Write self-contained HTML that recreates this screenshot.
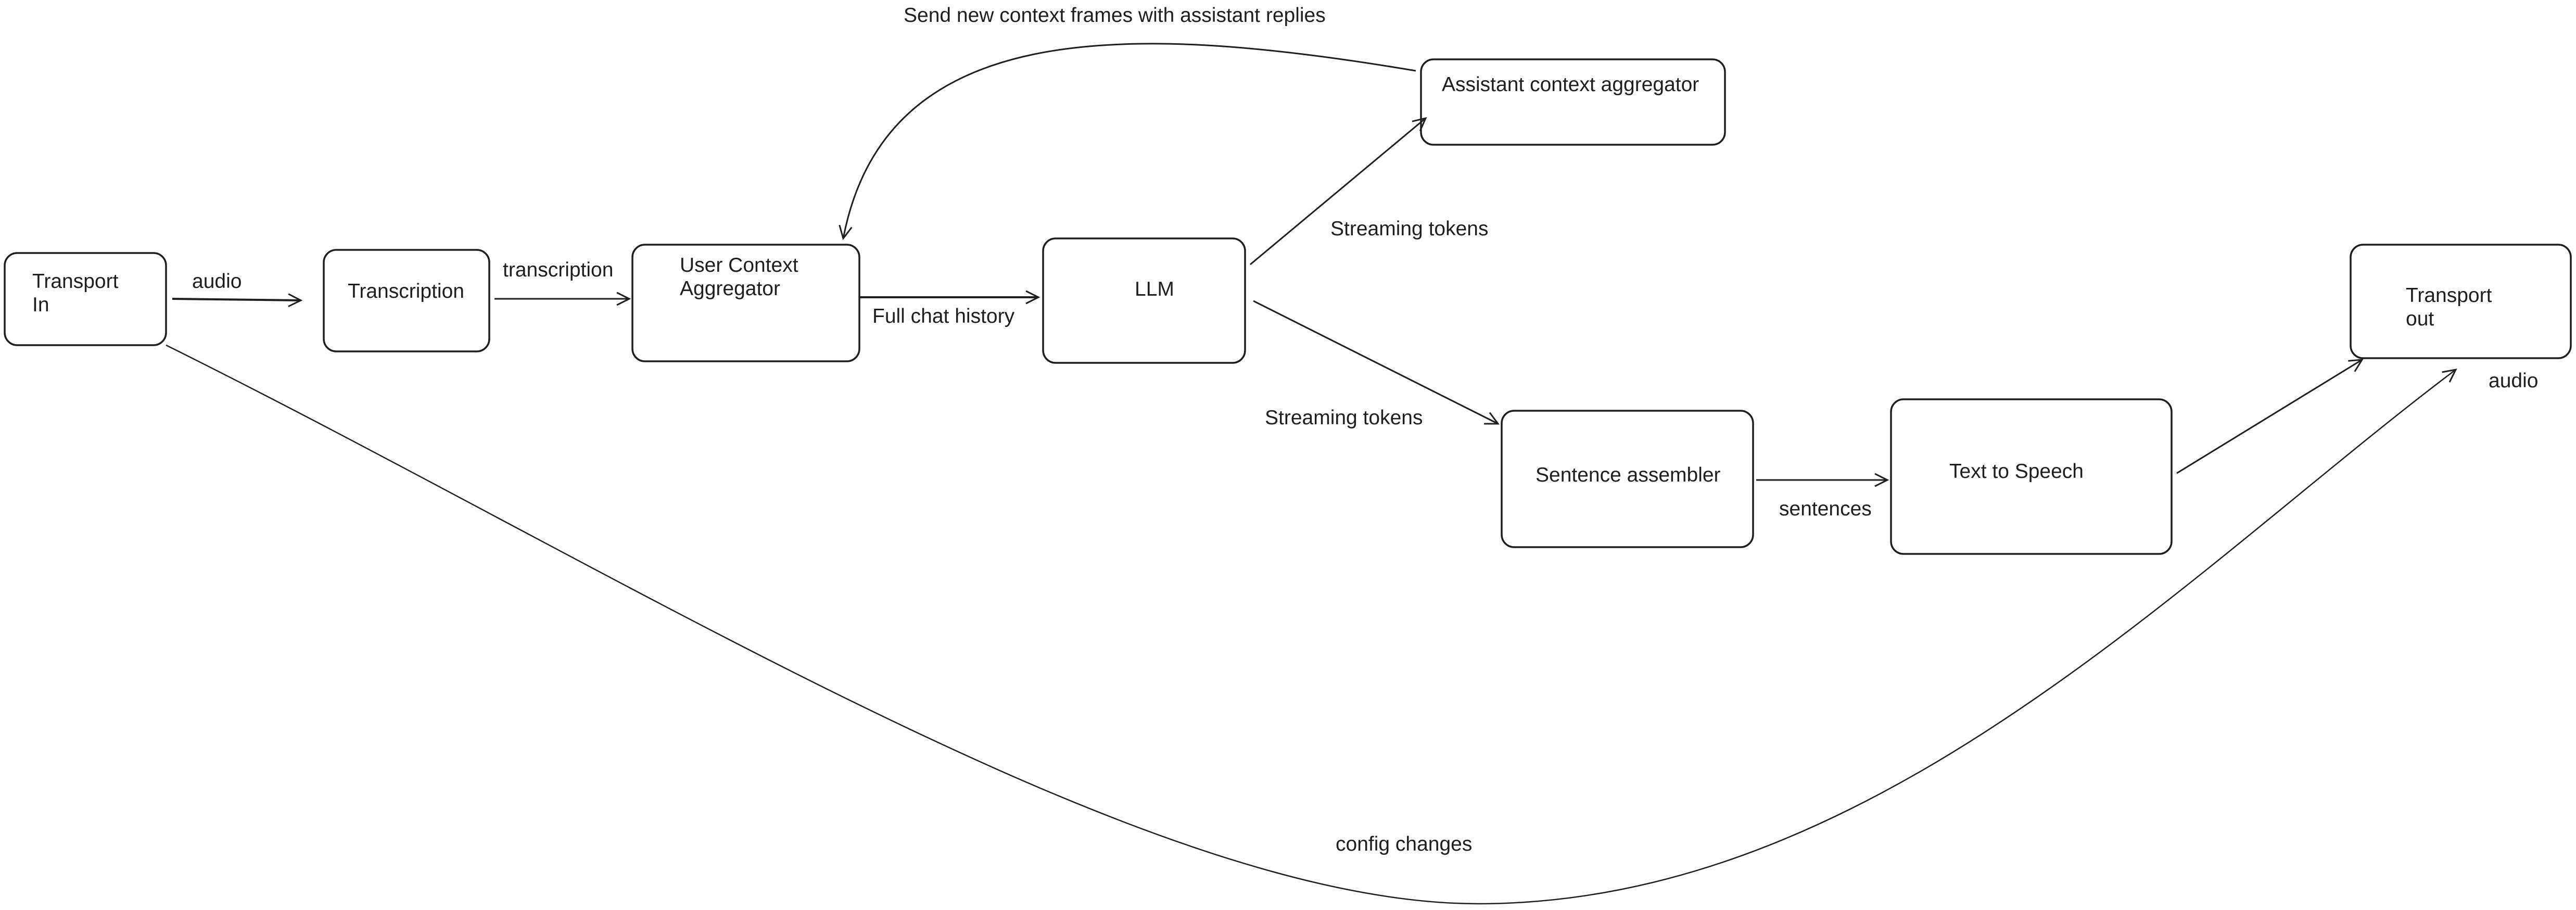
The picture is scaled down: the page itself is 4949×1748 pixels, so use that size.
<!DOCTYPE html>
<html><head><meta charset="utf-8"><style>
html,body{margin:0;padding:0;background:#fff;}
svg{display:block}
text{font-family:"Liberation Sans",sans-serif;font-size:39px;fill:#1e1e1e;}
</style></head><body>
<svg width="4949" height="1748" viewBox="0 0 4949 1748" xmlns="http://www.w3.org/2000/svg">
<defs>
<marker id="a" markerWidth="30" markerHeight="30" refX="26" refY="15" orient="auto" markerUnits="userSpaceOnUse">
<path d="M2,3 L26,15 L2,27" fill="none" stroke="#1e1e1e" stroke-width="3"/>
</marker>
</defs>
<g fill="none" stroke="#1e1e1e" stroke-width="3.5">
<rect x="9" y="486" width="310" height="177" rx="24"/>
<rect x="622" y="480" width="318" height="195" rx="24"/>
<rect x="1215" y="470" width="436" height="224" rx="24"/>
<rect x="2004" y="458" width="388" height="239" rx="24"/>
<rect x="2730" y="114" width="584" height="164" rx="24"/>
<rect x="2885" y="789" width="483" height="262" rx="24"/>
<rect x="3633" y="767" width="539" height="297" rx="24"/>
<rect x="4516" y="470" width="423" height="218" rx="24"/>
</g>
<g fill="none" stroke="#1e1e1e" stroke-width="3" marker-end="url(#a)">
<path d="M331,574 L578,577" stroke-width="4"/>
<path d="M950,574 L1209,574"/>
<path d="M1651,571 L1995,571" stroke-width="4"/>
<path d="M2402,508 L2739,227"/>
<path d="M2408,578 L2878,814"/>
<path d="M3374,922 L3626,922"/>
<path d="M4182,909 L4538,691"/>
<path d="M2720,136 C2150,40 1700,40 1620,458"/>
<path d="M319,663 C1200,1100 2200,1736 2840,1736 C3600,1736 4200,1100 4718,710" stroke-width="2.5"/>
</g>
<text x="62" y="553">Transport</text>
<text x="62" y="598">In</text>
<text x="668" y="572">Transcription</text>
<text x="1306" y="522">User Context</text>
<text x="1306" y="567">Aggregator</text>
<text x="2180" y="568">LLM</text>
<text x="2770" y="175">Assistant context aggregator</text>
<text x="2950" y="925">Sentence assembler</text>
<text x="3745" y="918">Text to Speech</text>
<text x="4622" y="580">Transport</text>
<text x="4622" y="625">out</text>
<text x="369" y="553">audio</text>
<text x="966" y="531">transcription</text>
<text x="1676" y="620">Full chat history</text>
<text x="2556" y="452">Streaming tokens</text>
<text x="2430" y="815">Streaming tokens</text>
<text x="3418" y="990">sentences</text>
<text x="4781" y="744">audio</text>
<text x="1736" y="42">Send new context frames with assistant replies</text>
<text x="2566" y="1634">config changes</text>
</svg>
</body></html>
